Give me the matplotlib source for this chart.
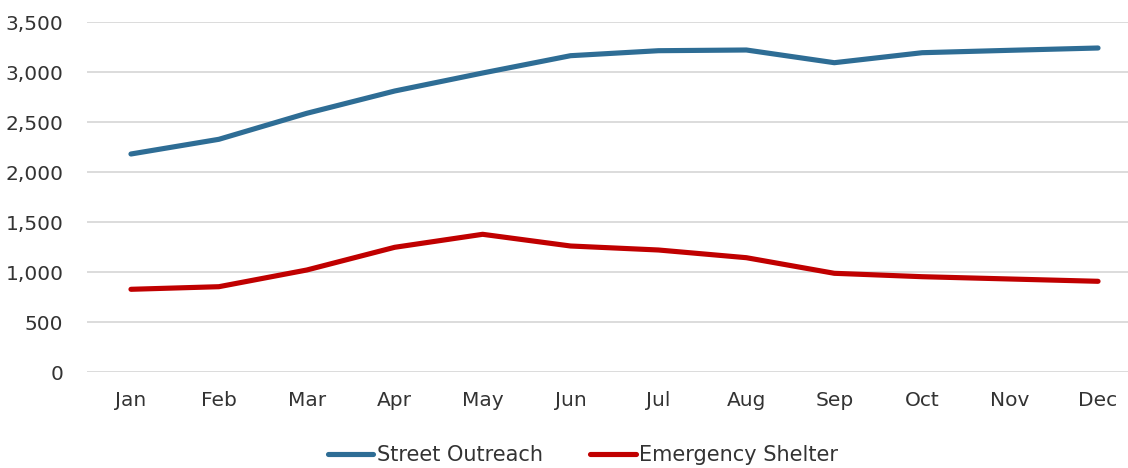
import numpy as np
import matplotlib as mpl
import matplotlib.pyplot as plt
from matplotlib.ticker import FuncFormatter

mpl.rc('font', family='DejaVu Sans', size=12)
mpl.rc('figure', facecolor='w')

months = ['Jan', 'Feb', 'Mar', 'Apr', 'May', 'Jun',
          'Jul', 'Aug', 'Sep', 'Oct', 'Nov', 'Dec']
street_outreach = [2180, 2327, 2587, 2810, 2990, 3163,
                   3213, 3220, 3093, 3193, 3217, 3240]
emergency_shelter = [827, 853, 1020, 1247, 1377, 1260,
                     1220, 1143, 987, 953, 930, 907]
y_ticks = [0, 500, 1000, 1500, 2000, 2500, 3000, 3500]

W, H = 1128, 468
fig = plt.figure(figsize=(W / 100, H / 100), dpi=100)
ax = fig.add_axes([87 / W, (H - 372) / H, (1142 - 87) / W, 350 / H])

x = np.arange(len(months))
ax.plot(x, street_outreach, color='#2E6D95', linewidth=3.7,
        solid_capstyle='round', solid_joinstyle='round', label='Street Outreach')
ax.plot(x, emergency_shelter, color='#C00000', linewidth=3.7,
        solid_capstyle='round', solid_joinstyle='round', label='Emergency Shelter')

ax.set_xlim(-0.5, len(months) - 0.5)
ax.set_ylim(0, 3500)
ax.set_yticks(y_ticks)
ax.yaxis.set_major_formatter(FuncFormatter(lambda v, p: f'{int(v):,}'))
ax.set_xticks(x)
ax.set_xticklabels(months)

ax.grid(axis='y', color='#D9D9D9', linewidth=1.3)
ax.set_axisbelow(True)
for s in ax.spines.values():
    s.set_visible(False)
ax.tick_params(length=0, colors='#333333', labelsize=14.5)
ax.tick_params(axis='x', pad=14)
ax.tick_params(axis='y', pad=17)

ax.legend(loc='center', bbox_to_anchor=(583 / W, (H - 455) / H),
          bbox_transform=fig.transFigure, ncol=2, frameon=False,
          fontsize=15, handlelength=2.2, handletextpad=0.15,
          columnspacing=2.3, labelcolor='#333333',
          borderaxespad=0, borderpad=0)

fig.savefig('out.png', dpi=100)
